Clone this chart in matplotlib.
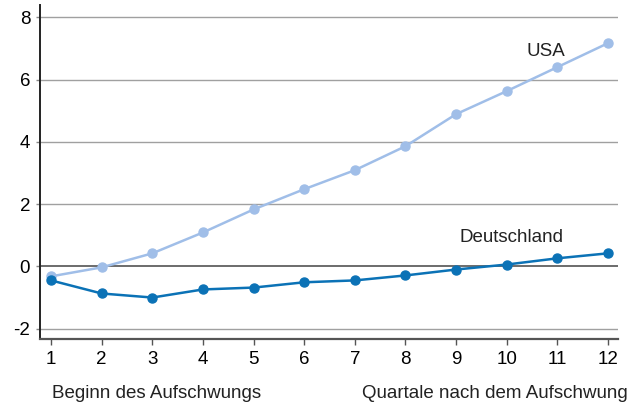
import matplotlib
matplotlib.use("Agg")
import matplotlib.pyplot as plt

plt.rcParams['font.family'] = ['Liberation Sans', 'DejaVu Sans']
plt.rcParams['axes.unicode_minus'] = False

quartale = [1, 2, 3, 4, 5, 6, 7, 8, 9, 10, 11, 12]
usa = [-0.32, -0.03, 0.42, 1.09, 1.83, 2.48, 3.09, 3.86, 4.89, 5.63, 6.40, 7.17]
deutschland = [-0.45, -0.87, -1.00, -0.74, -0.68, -0.51, -0.45, -0.29, -0.10, 0.06, 0.26, 0.42]
y_ticks = [-2, 0, 2, 4, 6, 8]

col_usa = '#a0bee8'
col_de = '#0b72b6'
fs = 13.5

fig = plt.figure(figsize=(6.34, 4.04), dpi=100)
ax = fig.add_axes([0.063, 0.161, 0.912, 0.827])

for y in y_ticks:
    if y == 0:
        ax.axhline(y, color='#444444', lw=1.1, zorder=1)
    else:
        ax.axhline(y, color='#a0a0a0', lw=1.0, zorder=1)

ax.plot(quartale, usa, color=col_usa, lw=1.8, marker='o', ms=6.5, zorder=3)
ax.plot(quartale, deutschland, color=col_de, lw=1.8, marker='o', ms=6.5, zorder=3)

ax.text(10.78, 6.9, 'USA', fontsize=fs, ha='center', va='center', color='#222222')
ax.text(10.1, 0.93, 'Deutschland', fontsize=fs, ha='center', va='center', color='#222222')

ax.set_xlim(0.78, 12.2)
ax.set_ylim(-2.33, 8.4)
ax.set_xticks(quartale)
ax.set_yticks(y_ticks)
ax.tick_params(axis='x', length=4, width=1, color='#555555', labelsize=fs, pad=5)
ax.tick_params(axis='y', length=3, width=1, color='#888888', labelsize=fs, pad=4)

for s in ['top', 'right']:
    ax.spines[s].set_visible(False)
ax.spines['left'].set_color('#222222')
ax.spines['left'].set_linewidth(1.4)
ax.spines['bottom'].set_color('#555555')
ax.spines['bottom'].set_linewidth(1.6)

fig.text(52 / 634, 1 - 393 / 404, 'Beginn des Aufschwungs', fontsize=fs, ha='left', va='center', color='#222222')
fig.text(628 / 634, 1 - 393 / 404, 'Quartale nach dem Aufschwung', fontsize=fs, ha='right', va='center', color='#222222')

fig.savefig('out.png', dpi=100)
